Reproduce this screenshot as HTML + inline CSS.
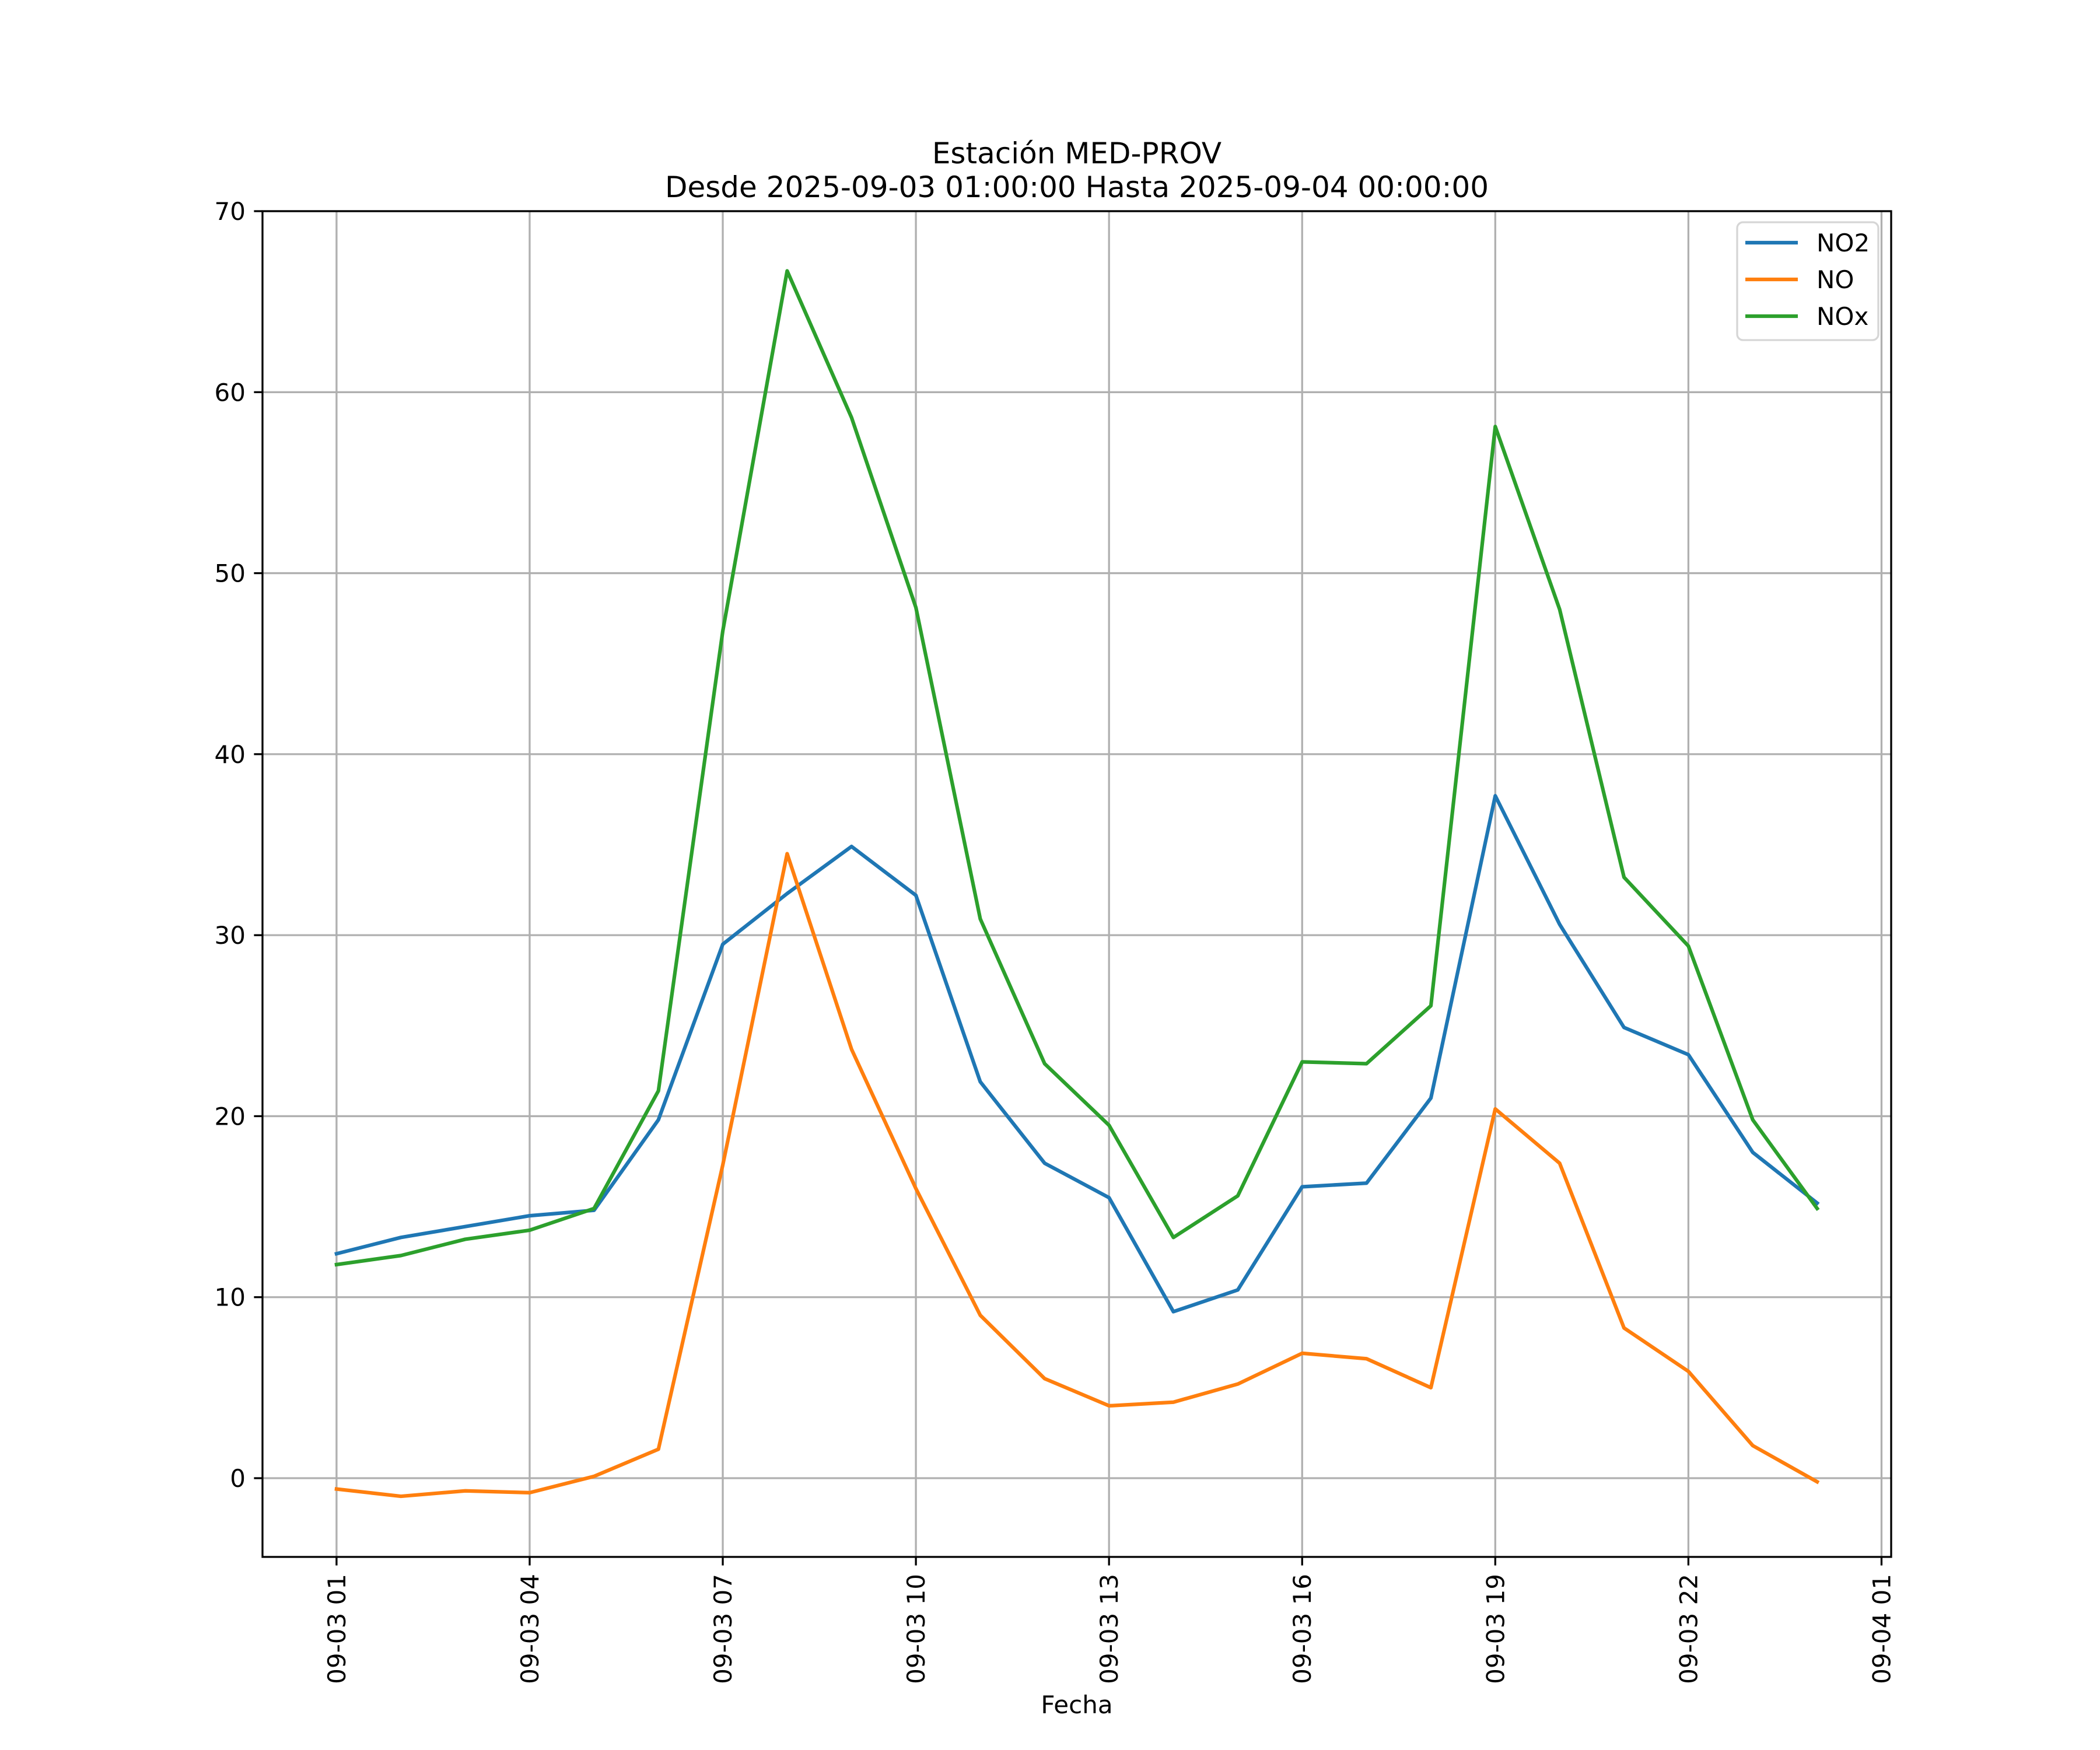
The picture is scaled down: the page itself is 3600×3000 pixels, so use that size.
<!DOCTYPE html>
<html><head><meta charset="utf-8"><style>body{margin:0;background:#fff}svg{display:block}text{font-family:"DejaVu Sans","Liberation Sans",sans-serif}</style></head>
<body>
<svg id="chart" width="3600" height="3000" viewBox="0 0 3600 3000" xmlns="http://www.w3.org/2000/svg">
<rect width="3600" height="3000" fill="#fff"/>
<g id="grid"></g>
<g id="series"></g>
<rect x="450" y="362" width="2792" height="2307" fill="none" stroke="#000" stroke-width="3.3"/>
<g id="ticks"></g>
<text x="1846" y="280" font-size="50" text-anchor="middle">Estación MED-PROV</text>
<text x="1846" y="338" font-size="50" text-anchor="middle">Desde 2025-09-03 01:00:00 Hasta 2025-09-04 00:00:00</text>
<text x="1846" y="2937" font-size="42" text-anchor="middle">Fecha</text>
<g>
<rect x="2978" y="381" width="242" height="202" rx="10" fill="#fff" fill-opacity="0.8" stroke="#d6d6d6" stroke-width="3.3"/>
<g><line x1="2992" x2="3082" y1="416" y2="416" stroke="#1f77b4" stroke-width="6.25"/><text x="3114" y="431" font-size="42">NO2</text></g>
<g><line x1="2992" x2="3082" y1="479" y2="479" stroke="#ff7f0e" stroke-width="6.25"/><text x="3114" y="494" font-size="42">NO</text></g>
<g><line x1="2992" x2="3082" y1="542" y2="542" stroke="#2ca02c" stroke-width="6.25"/><text x="3114" y="557" font-size="42">NOx</text></g>
</g>
</svg>
<script>
const hours = [0,1,2,3,4,5,6,7,8,9,10,11,12,13,14,15,16,17,18,19,20,21,22,23];
const no2 = [12.4,13.3,13.9,14.5,14.8,19.8,29.5,32.3,34.9,32.2,21.9,17.4,15.5,9.2,10.4,16.1,16.3,21.0,37.7,30.6,24.9,23.4,18.0,15.2];
const no = [-0.6,-1.0,-0.7,-0.8,0.1,1.6,17.3,34.5,23.7,16.0,9.0,5.5,4.0,4.2,5.2,6.9,6.6,5.0,20.4,17.4,8.3,5.9,1.8,-0.2];
const nox = [11.8,12.3,13.2,13.7,14.9,21.4,46.8,66.7,58.6,48.1,30.9,22.9,19.5,13.3,15.6,23.0,22.9,26.1,58.1,48.0,33.2,29.4,19.8,14.9];
const xTicks = [0,3,6,9,12,15,18,21,24];
const xTickLabels = ["09-03 01","09-03 04","09-03 07","09-03 10","09-03 13","09-03 16","09-03 19","09-03 22","09-04 01"];
const yTicks = [0,10,20,30,40,50,60,70];

const L=450,R=3242,T=362,B=2669, xmin=-1.15,xmax=24.15,ymin=-4.35,ymax=70;
const X=h=>L+(h-xmin)/(xmax-xmin)*(R-L);
const Y=v=>B-(v-ymin)/(ymax-ymin)*(B-T);
const NS="http://www.w3.org/2000/svg";
function mk(tag,attrs,parent){const e=document.createElementNS(NS,tag);for(const k in attrs)e.setAttribute(k,attrs[k]);parent.appendChild(e);return e;}
const grid=document.getElementById('grid'),ticks=document.getElementById('ticks'),series=document.getElementById('series');
xTicks.forEach((t,i)=>{
  const x=X(t);
  const g=mk('line',{x1:x,x2:x,y1:T,y2:B,stroke:'#b0b0b0','stroke-width':3.3},grid);
  
  
  const tk=mk('line',{x1:x,x2:x,y1:B,y2:B+14.6,stroke:'#000','stroke-width':3.3},ticks);
  
  
  const tx=mk('text',{x:0,y:0,'font-size':42,'text-anchor':'end',transform:`translate(${x+15},${B+29}) rotate(-90)`},ticks);
  tx.textContent=xTickLabels[i];
  
  
});
yTicks.forEach(t=>{
  const y=Y(t);
  const g=mk('line',{x1:L,x2:R,y1:y,y2:y,stroke:'#b0b0b0','stroke-width':3.3},grid);
  
  
  const tk=mk('line',{x1:L-14.6,x2:L,y1:y,y2:y,stroke:'#000','stroke-width':3.3},ticks);
  
  
  const tx=mk('text',{x:L-29,y:y+15,'font-size':42,'text-anchor':'end'},ticks);
  tx.textContent=String(t);
  
  
});
[[no2,'#1f77b4','line-no2'],[no,'#ff7f0e','line-no'],[nox,'#2ca02c','line-nox']].forEach(([d,c,n])=>{
  const p=mk('polyline',{points:d.map((v,i)=>X(hours[i])+','+Y(v)).join(' '),fill:'none',stroke:c,'stroke-width':6.25,'stroke-linejoin':'round','stroke-linecap':'square'},series);
  
  
});
</script>
</body></html>
